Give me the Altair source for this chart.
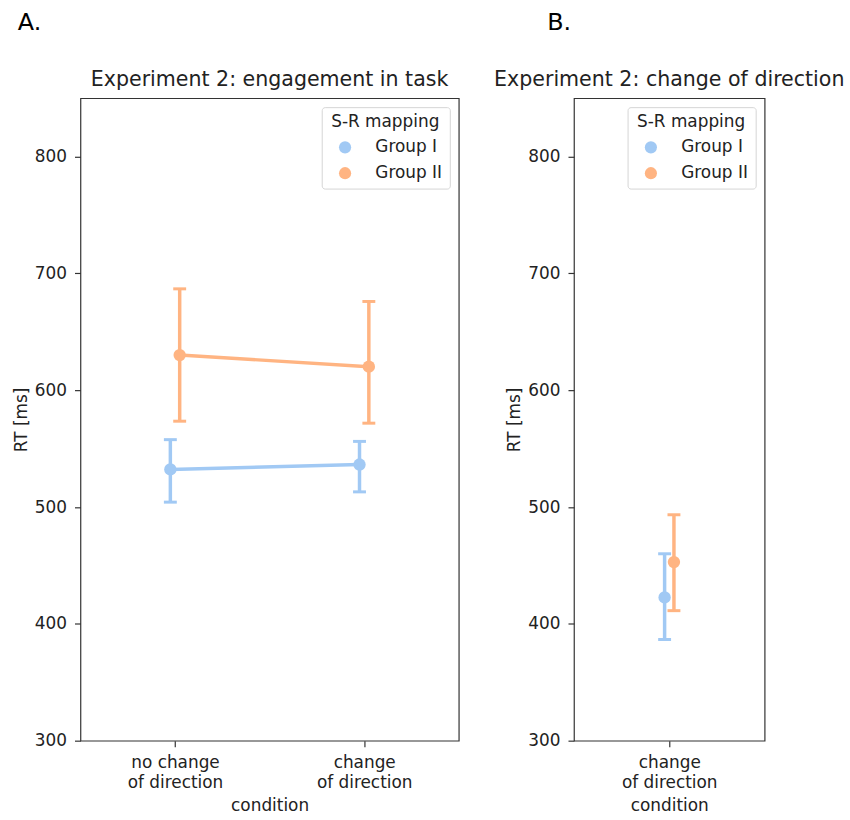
import altair as alt
import pandas as pd

FONT = "DejaVu Sans"
groups = ["Group I", "Group II"]
colors = ["#a1c9f4", "#ffb482"]

# Panel A: engagement in task
conds_a = ["no change\nof direction", "change\nof direction"]
a_g1_mean = [532.2, 536.4]
a_g1_lo = [504.2, 513.0]
a_g1_hi = [557.7, 556.2]
a_g2_mean = [630.1, 620.2]
a_g2_lo = [573.5, 571.8]
a_g2_hi = [686.8, 676.0]

# Panel B: change of direction
conds_b = ["change\nof direction"]
b_g1_mean = [422.6]
b_g1_lo = [386.6]
b_g1_hi = [460.0]
b_g2_mean = [452.9]
b_g2_lo = [411.3]
b_g2_hi = [493.4]

y_ticks = [300, 400, 500, 600, 700, 800]


def make_df(conds, series):
    rows = []
    for g, (m, lo, hi) in zip(groups, series):
        for c, mv, lv, hv in zip(conds, m, lo, hi):
            rows.append({"condition": c, "group": g, "mean": mv, "lo": lv, "hi": hv})
    return pd.DataFrame(rows)


df_a = make_df(conds_a, [(a_g1_mean, a_g1_lo, a_g1_hi), (a_g2_mean, a_g2_lo, a_g2_hi)])
df_b = make_df(conds_b, [(b_g1_mean, b_g1_lo, b_g1_hi), (b_g2_mean, b_g2_lo, b_g2_hi)])


def panel(df, conds, width, title, letter, letter_x):
    xs = alt.Scale(type="point", domain=conds, padding=0.5)
    ys = alt.Scale(domain=[300, 850], nice=False, zero=False)
    x = alt.X("condition:N", scale=xs, sort=conds,
              axis=alt.Axis(title="condition", labelAngle=0,
                            labelExpr="split(datum.label, '\\n')",
                            labelLineHeight=20, titlePadding=7))
    y_axis = alt.Axis(title="RT [ms]", values=y_ticks, titlePadding=4)
    color = alt.Color("group:N", scale=alt.Scale(domain=groups, range=colors),
                      legend=alt.Legend(title="S-R mapping", orient="top-right",
                                        offset=9, padding=7, strokeColor="#d5d5d5",
                                        fillColor="white", cornerRadius=3,
                                        titleFontSize=17, titleFontWeight="normal",
                                        titleFont=FONT, labelFont=FONT,
                                        titleColor="#222", labelColor="#222",
                                        labelFontSize=17, symbolSize=150,
                                        symbolType="circle", symbolStrokeWidth=0,
                                        symbolOffset=8,
                                        titleAnchor="middle", rowPadding=8,
                                        labelOffset=22, titlePadding=8))
    layers = []
    for g, col, off in zip(groups, colors, [-4.7, 4.7]):
        base = alt.Chart(df[df["group"] == g])
        layers.append(base.mark_line(color=col, strokeWidth=3.5, xOffset=off).encode(
            x=x, y=alt.Y("mean:Q", scale=ys, axis=y_axis)))
        layers.append(base.mark_rule(color=col, strokeWidth=3.5, xOffset=off).encode(
            x=x, y=alt.Y("lo:Q", scale=ys, axis=y_axis), y2="hi:Q"))
        layers.append(base.mark_tick(color=col, size=13, thickness=3, xOffset=off,
                                     orient="horizontal", opacity=1).encode(
            x=x, y=alt.Y("lo:Q", scale=ys, axis=y_axis)))
        layers.append(base.mark_tick(color=col, size=13, thickness=3, xOffset=off,
                                     orient="horizontal", opacity=1).encode(
            x=x, y=alt.Y("hi:Q", scale=ys, axis=y_axis)))
    for g, off in zip(groups, [-4.7, 4.7]):
        base = alt.Chart(df[df["group"] == g])
        layers.append(base.mark_circle(size=155, opacity=1, xOffset=off).encode(
            x=x, y=alt.Y("mean:Q", scale=ys, axis=y_axis), color=color))
    txt = alt.Chart(pd.DataFrame({"letter": [letter], "title": [title]}))
    layers.append(txt.mark_text(
        align="left", baseline="middle", fontSize=24, font=FONT, color="black"
    ).encode(x=alt.value(letter_x), y=alt.value(-76), text="letter:N"))
    layers.append(txt.mark_text(
        align="center", baseline="middle", fontSize=20.7, font=FONT, color="#222"
    ).encode(x=alt.value(width / 2), y=alt.value(-18), text="title:N"))
    return alt.layer(*layers).properties(width=width, height=647)


pa = panel(df_a, conds_a, 381, "Experiment 2: engagement in task", "A.", -63)
pb = panel(df_b, conds_b, 192, "Experiment 2: change of direction", "B.", -27)

chart = alt.hconcat(pa, pb, spacing=116, bounds="flush").resolve_scale(
    color="independent"
).properties(
    padding={"left": 11, "top": 7, "right": 5, "bottom": 5}
).configure_view(stroke="#333", strokeWidth=1.2).configure_axis(
    labelFont=FONT, titleFont=FONT, labelFontSize=17, titleFontSize=17,
    titleFontWeight="normal", labelColor="#222", titleColor="#222",
    domain=False, tickColor="#333", tickSize=6, tickWidth=1.2, grid=False,
    labelPadding=8
)

chart.save("out.html", embed_options={"renderer": "svg", "actions": False})
